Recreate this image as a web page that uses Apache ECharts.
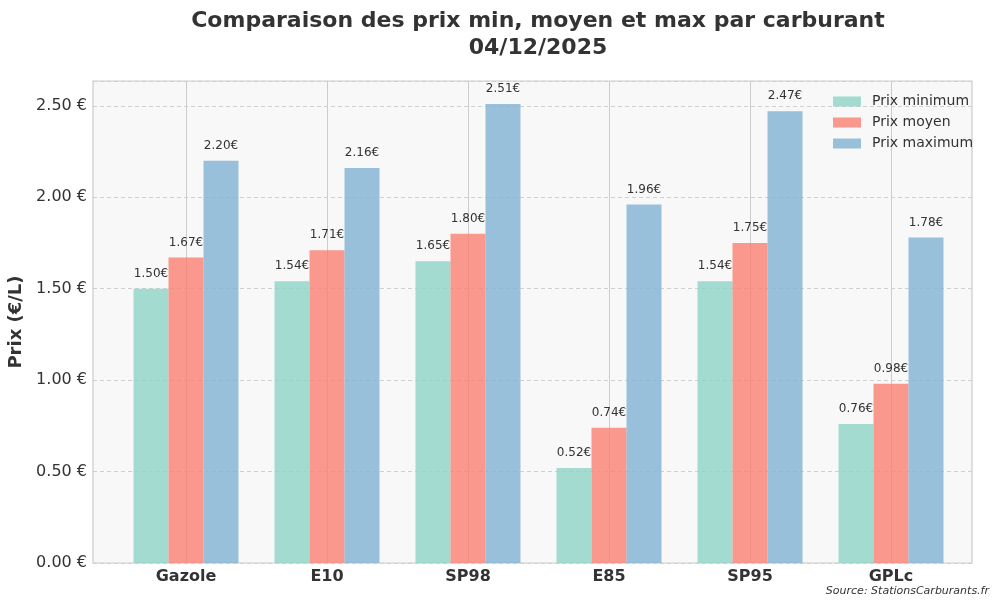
<!DOCTYPE html>
<html>
<head>
<meta charset="utf-8">
<script src="https://cdn.jsdelivr.net/npm/echarts@6/dist/echarts.min.js"></script>
<style>html,body{margin:0;padding:0;background:#fff}#c{width:1000px;height:608px}</style>
</head>
<body>
<div id="c"></div>
<script>
const categories = ['Gazole', 'E10', 'SP98', 'E85', 'SP95', 'GPLc'];
const prixMin = [1.50, 1.54, 1.65, 0.52, 1.54, 0.76];
const prixMoyen = [1.67, 1.71, 1.80, 0.74, 1.75, 0.98];
const prixMax = [2.20, 2.16, 2.51, 1.96, 2.47, 1.78];
const seriesNames = ['Prix minimum', 'Prix moyen', 'Prix maximum'];
const titleText = 'Comparaison des prix min, moyen et max par carburant\n04/12/2025';
const yAxisName = 'Prix (€/L)';
const sourceText = 'Source: StationsCarburants.fr';

const FONT = '"DejaVu Sans", sans-serif';
const yMax = 2.6355;
const colors = ['rgba(141,211,199,0.8)', 'rgba(251,128,114,0.8)', 'rgba(128,177,211,0.8)'];

const chart = echarts.init(document.getElementById('c'), null, {renderer: 'canvas'});

function barSeries(name, data, color) {
  return {
    name: name, type: 'bar', xAxisIndex: 1, yAxisIndex: 1,
    data: data, barWidth: 35, barGap: '0%',
    itemStyle: {color: color},
    label: {
      show: true, position: 'top', distance: 9,
      formatter: p => p.value.toFixed(2) + '€',
      fontFamily: FONT, fontSize: 12, color: '#333'
    }
  };
}

chart.setOption({
  animation: false,
  backgroundColor: '#ffffff',
  grid: [
    {left: 93, right: 28, top: 81, bottom: 45, show: true, outerBoundsMode: 'none', containLabel: false,
     backgroundColor: '#f8f8f8', borderColor: '#cccccc', borderWidth: 1.2},
    {left: 115.5, right: 38.5, top: 81, bottom: 45, outerBoundsMode: 'none', containLabel: false}
  ],
  xAxis: [
    {gridIndex: 0, type: 'value', min: 0, max: 1, show: false},
    {gridIndex: 1, type: 'category', data: categories,
     axisLine: {show: false},
     axisTick: {show: true, alignWithLabel: true, inside: true, length: 482,
                lineStyle: {color: '#cccccc', width: 1}},
     axisLabel: {fontFamily: FONT, fontSize: 16, fontWeight: 'bold', color: '#333', margin: 6},
     splitLine: {show: false}}
  ],
  yAxis: [
    {gridIndex: 0, type: 'value', min: 0, max: yMax, interval: 0.5,
     name: yAxisName, nameLocation: 'middle', nameGap: 67,
     nameTextStyle: {fontFamily: FONT, fontSize: 18, fontWeight: 'bold', color: '#333'},
     axisLine: {show: false}, axisTick: {show: false},
     axisLabel: {fontFamily: FONT, fontSize: 16, color: '#333', margin: 6,
                 formatter: v => v.toFixed(2) + ' €',
                 showMaxLabel: false},
     splitLine: {show: true, lineStyle: {color: '#d0d0d0', type: [4, 3], width: 1}}},
    {gridIndex: 1, type: 'value', min: 0, max: yMax, interval: 0.5, show: false}
  ],
  legend: {
    orient: 'vertical', left: 833, top: 94, padding: 0,
    itemWidth: 28, itemHeight: 10, itemGap: 6, icon: 'rect',
    textStyle: {fontFamily: FONT, fontSize: 14, color: '#333', lineHeight: 15, padding: [0, 0, 0, 6]},
    data: seriesNames
  },
  graphic: [
    {type: 'text', x: 538, y: 8, z: 10,
     style: {text: titleText, textAlign: 'center',
             font: 'bold 22px ' + FONT, fill: '#333', lineHeight: 27}},
    {type: 'text', right: 11, top: 586,
     style: {text: sourceText, font: 'italic 11px ' + FONT, fill: '#333'}}
  ],
  series: [
    barSeries(seriesNames[0], prixMin, colors[0]),
    barSeries(seriesNames[1], prixMoyen, colors[1]),
    barSeries(seriesNames[2], prixMax, colors[2])
  ]
});
</script>
</body>
</html>
